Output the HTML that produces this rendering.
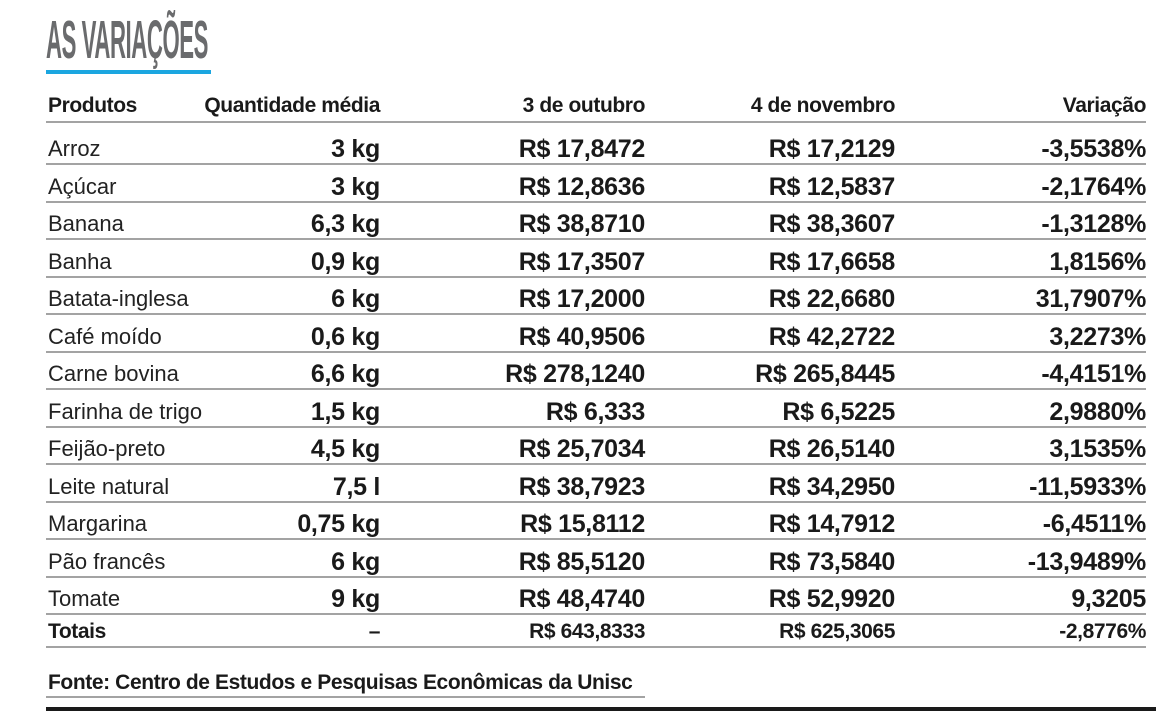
<!DOCTYPE html>
<html><head><meta charset="utf-8"><style>
body{margin:0;width:1170px;height:721px;background:#fff;position:relative;overflow:hidden;font-family:"Liberation Sans",sans-serif;color:#1a1a1a}
.t{position:absolute;white-space:nowrap;line-height:30px;height:30px}
.n{font-size:22px;left:48px;color:#222}
.b{font-weight:bold;font-size:25px;letter-spacing:-0.3px}
.h{font-weight:bold;font-size:21px;letter-spacing:-0.4px}
.r{text-align:right}
.ln{position:absolute;left:46px;width:1100px;height:2px;background:#a3a3a3}
</style></head><body>
<div style="position:absolute;left:46px;top:12px;font-size:54px;font-weight:bold;color:#6a6b6d;transform:scaleX(0.41);transform-origin:left top;letter-spacing:-1px;line-height:56px">AS VARIAÇÕES</div>
<div style="position:absolute;left:46px;top:70px;width:165px;height:4px;background:#1ba6e0"></div>
<div id="c"></div>
<script>
var rows=[["Arroz","3 kg","R$ 17,8472","R$ 17,2129","-3,5538%"],["Açúcar","3 kg","R$ 12,8636","R$ 12,5837","-2,1764%"],["Banana","6,3 kg","R$ 38,8710","R$ 38,3607","-1,3128%"],["Banha","0,9 kg","R$ 17,3507","R$ 17,6658","1,8156%"],["Batata-inglesa","6 kg","R$ 17,2000","R$ 22,6680","31,7907%"],["Café moído","0,6 kg","R$ 40,9506","R$ 42,2722","3,2273%"],["Carne bovina","6,6 kg","R$ 278,1240","R$ 265,8445","-4,4151%"],["Farinha de trigo","1,5 kg","R$ 6,333","R$ 6,5225","2,9880%"],["Feijão-preto","4,5 kg","R$ 25,7034","R$ 26,5140","3,1535%"],["Leite natural","7,5 l","R$ 38,7923","R$ 34,2950","-11,5933%"],["Margarina","0,75 kg","R$ 15,8112","R$ 14,7912","-6,4511%"],["Pão francês","6 kg","R$ 85,5120","R$ 73,5840","-13,9489%"],["Tomate","9 kg","R$ 48,4740","R$ 52,9920","9,3205"]];
var R=[380,645,895,1146],h="";
function cell(cls,txt,right,cy){return '<div class="t '+cls+' r" style="right:'+(1170-right)+'px;top:'+(cy-15)+'px">'+txt+'</div>';}
h+='<div class="t h" style="left:48px;top:91px">Produtos</div>';
["Quantidade média","3 de outubro","4 de novembro","Variação"].forEach(function(s,i){h+=cell("h",s,R[i],106);});
h+='<div class="ln" style="top:121px"></div>';
rows.forEach(function(r,k){var cy=149+37.5*k;
h+='<div class="t n" style="top:'+(cy-15)+'px">'+r[0]+'</div>';
for(var i=1;i<5;i++)h+=cell("b",r[i],R[i-1],cy);
h+='<div class="ln" style="top:'+(cy+14)+'px"></div>';});
h+='<div class="t h" style="left:48px;top:617px">Totais</div>';
["–","R$ 643,8333","R$ 625,3065","-2,8776%"].forEach(function(s,i){h+=cell("h",s,R[i],632);});
h+='<div class="ln" style="top:646px"></div>';
h+='<div class="t h" style="left:48px;top:668px">Fonte: Centro de Estudos e Pesquisas Econômicas da Unisc</div>';
h+='<div style="position:absolute;left:46px;top:696px;width:599px;height:2px;background:#a3a3a3"></div>';
h+='<div style="position:absolute;left:46px;top:707px;width:1110px;height:4px;background:#1a1a1a"></div>';
document.getElementById("c").innerHTML=h;
</script>
</body></html>
